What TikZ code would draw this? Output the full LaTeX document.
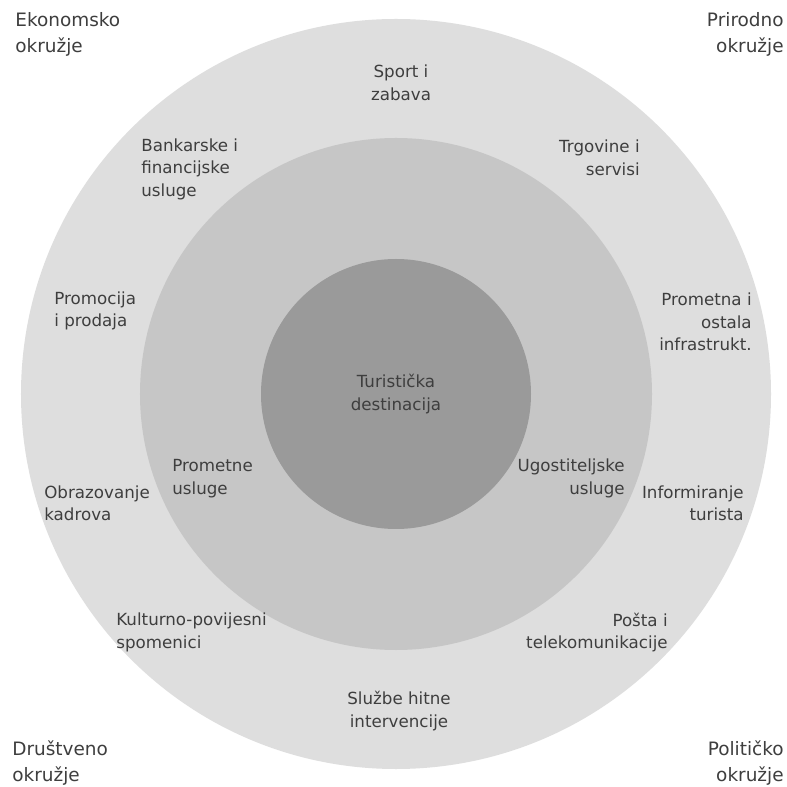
\documentclass[tikz,border=0pt]{standalone}
\usepackage{fontspec}
\setmainfont{DejaVu Sans}
\definecolor{ringout}{HTML}{DEDEDE}
\definecolor{ringmid}{HTML}{C6C6C6}
\definecolor{ringin}{HTML}{9A9A9A}
\definecolor{txt}{HTML}{3E3E3E}
\begin{document}
\begin{tikzpicture}[
  lbl/.style={text=txt,font=\fontsize{9.5}{12.8}\selectfont,inner sep=0pt},
  corner/.style={text=txt,font=\fontsize{10.5}{15.2}\selectfont,inner sep=0pt}]
\useasboundingbox (-7.92,-7.86) rectangle (7.82,7.88);
\fill[white] (-7.92,-7.86) rectangle (7.82,7.88);
% rings
\fill[ringout] (0,0) circle (7.5);
\fill[ringmid] (0,0) circle (5.12);
\fill[ringin] (0,0) circle (2.7);
% corners
\node[corner,anchor=west,align=left] (eko) at (-7.62,7.19) {Ekonomsko\\okružje};
\node[corner,anchor=east,align=right] (pri) at (7.76,7.19) {Prirodno\\okružje};
\node[corner,anchor=west,align=left] (dru) at (-7.68,-7.38) {Društveno\\okružje};
\node[corner,anchor=east,align=right] (pol) at (7.76,-7.38) {Političko\\okružje};
% outer ring
\node[lbl,align=center] (sport) at (0.10,6.22) {Sport i\\zabava};
\node[lbl,anchor=west,align=left] (bank) at (-5.10,4.50) {Bankarske i\\financijske\\usluge};
\node[lbl,anchor=east,align=right] (trg) at (4.88,4.72) {Trgovine i\\servisi};
\node[lbl,anchor=west,align=left] (promo) at (-6.84,1.66) {Promocija\\i prodaja};
\node[lbl,anchor=east,align=right] (infra) at (7.12,1.44) {Prometna i\\ostala\\infrastrukt.};
\node[lbl,anchor=west,align=left] (obraz) at (-7.04,-2.19) {Obrazovanje\\kadrova};
\node[lbl,anchor=east,align=right] (info) at (6.96,-2.19) {Informiranje\\turista};
\node[lbl,anchor=west,align=left] (kult) at (-5.60,-4.77) {Kulturno-povijesni\\spomenici};
\node[lbl,anchor=east,align=right] (posta) at (5.44,-4.77) {Pošta i\\telekomunikacije};
\node[lbl,align=center] (hitne) at (0.06,-6.34) {Službe hitne\\intervencije};
% middle ring
\node[lbl,anchor=west,align=left] (promet) at (-4.48,-1.69) {Prometne\\usluge};
\node[lbl,anchor=east,align=right] (ugost) at (4.58,-1.69) {Ugostiteljske\\usluge};
% centre
\node[lbl,align=center] (dest) at (0,0) {Turistička\\destinacija};
\end{tikzpicture}
\end{document}
